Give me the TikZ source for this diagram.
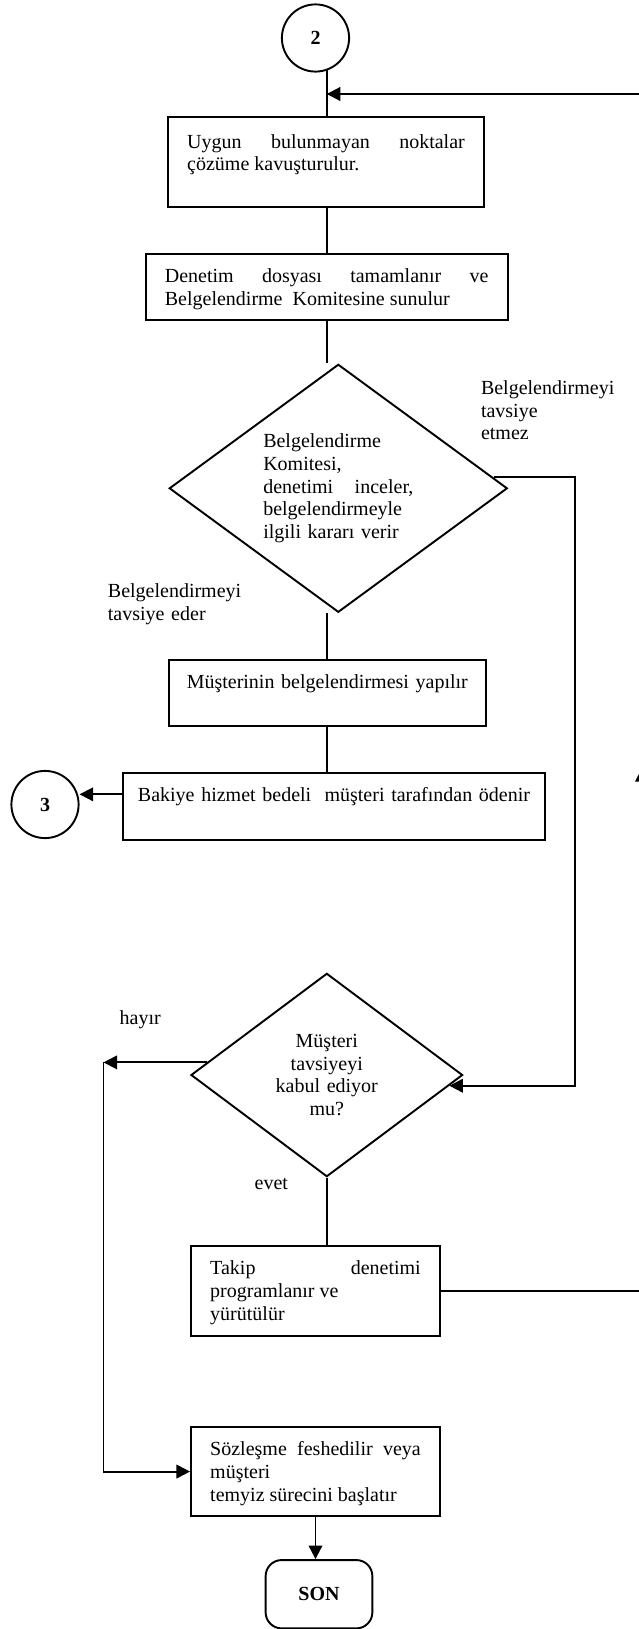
\documentclass[tikz,border=0pt]{standalone}
\usepackage{fontspec}
\setmainfont{Liberation Serif}
\usetikzlibrary{shapes.geometric,arrows.meta}

\tikzset{
  flow/.style={line width=1.2pt},
  arr/.style={line width=1.2pt,-{Triangle[length=8.5pt,width=8.5pt]}},
  proc/.style={draw,line width=1.2pt,rectangle,inner xsep=12pt,inner ysep=0pt,
    text height=18pt,anchor=north,align=justify},
  decision/.style={draw,line width=1.2pt,diamond,inner sep=0pt},
  conn/.style={draw,line width=1.2pt,circle,inner sep=0pt,minimum size=42pt},
  term/.style={draw,line width=1.2pt,rectangle,rounded corners=10pt,
    minimum width=66.7pt,minimum height=42.7pt},
  lbl/.style={inner sep=0pt,anchor=base west,align=left},
}

\begin{document}
\begin{tikzpicture}[x=0.625pt,y=-0.625pt,font=\fontsize{12.5}{14.25}\selectfont]
\useasboundingbox (0,0) rectangle (639,1629);
\coordinate (spine) at (326.7,0);
\coordinate (topin) at (326.7,94);
\coordinate (rtip) at (642,768);
\coordinate (rl) at (575,0);
\coordinate (hno) at (103.5,0);

\node[conn] (c2) at (315.5,38) {\textbf{2}};
\node[proc,text width=173.5pt,text height=19.4pt,text depth=36.9pt] (b1) at (326,116)
  {Uygun bulunmayan noktalar\linebreak çözüme kavuşturulur.};
\node[proc,text width=202.3pt,text depth=23.3pt] (b2) at (326.7,252.7)
  {Denetim dosyası tamamlanır ve\linebreak Belgelendirme~ Komitesine sunulur};
\node[decision,minimum width=211.3pt,minimum height=155pt,aspect=1.36,
  text width=93.8pt,align=left] (d1) at (338.3,488.3)
  {Belgelendirme\\ Komitesi,\\ denetimi\hfill inceler,\\ belgelendirmeyle\\ ilgili kararı verir};
\node[proc,inner xsep=6pt,text width=186pt,text depth=23.4pt,align=center] (b3) at (327.3,659)
  {Müşterinin belgelendirmesi yapılır};
\node[proc,inner xsep=6pt,text width=251.4pt,text depth=23.9pt,align=center] (b4) at (334,772)
  {Bakiye hizmet bedeli~ müşteri tarafından ödenir};
\node[conn] (c3) at (45,804.5) {\textbf{3}};
\node[decision,minimum width=169.8pt,minimum height=127.1pt,aspect=1.34,
  text width=75pt,align=center] (d2) at (326.8,1075)
  {Müşteri\\ tavsiyeyi\\ kabul ediyor\\ mu?};
\node[proc,text width=131.6pt,text depth=38.1pt] (b5) at (315.5,1245)
  {Takip denetimi\linebreak programlanır ve\\ yürütülür};
\node[proc,text width=131.6pt,text depth=38.1pt] (b6) at (315.5,1425.7)
  {Sözleşme feshedilir veya\linebreak müşteri\\ temyiz sürecini başlatır};
\node[term] (son) at (319,1594.2) {\textbf{SON}\hspace{12.5pt}};

\node[lbl,text width=90pt] (etmez) at (480.7,394.3) {Belgelendirmeyi\\ tavsiye\\ etmez};
\node[lbl,text width=90pt] (eder) at (107.6,597.3) {Belgelendirmeyi\\ tavsiye eder};
\node[lbl] (hayir) at (119.3,1024) {hayır};
\node[lbl] (evet) at (254.3,1189) {evet};

\draw[flow] (c2.-70) -- (c2.-70 |- b1.north);
\draw[flow] (spine |- b1.south) -- (spine |- b2.north);
\draw[flow] (spine |- b2.south) -- (spine |- d1.north);
\draw[flow] (spine |- d1.south) -- (spine |- b3.north);
\draw[flow] (spine |- b3.south) -- (spine |- b4.north);
\draw[arr] ([yshift=7.6pt]b4.west) -- ([yshift=7.6pt]b4.west -| c3.east);
\draw[arr] (d1.4) -| (rl |- d2.-5) -- (d2.-5);
\draw[arr] (d2.174) -- (d2.174 -| hno);
\draw[arr] (d2.174 -| hno) |- (b6.west);
\draw[flow] (spine |- d2.south) -- (spine |- b5.north);
\draw[arr] (b6.south) -- (b6.south |- son.north);
\draw[arr] (b5.east) -| (rtip);
\draw[arr] (rtip) |- (topin);
\end{tikzpicture}
\end{document}
